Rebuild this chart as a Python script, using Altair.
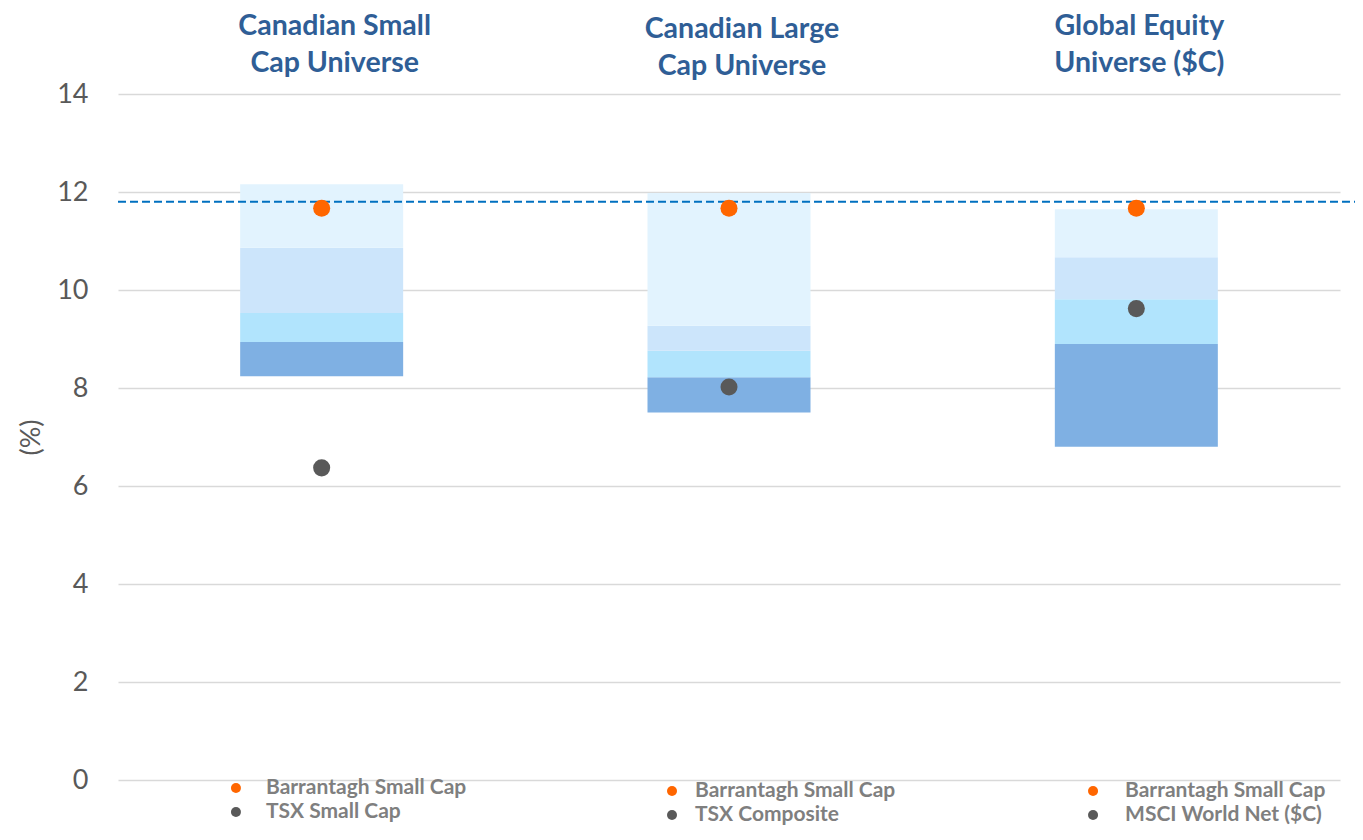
import altair as alt
import pandas as pd

# ---- data ----
groups = ["Canadian Small Cap Universe", "Canadian Large Cap Universe", "Global Equity Universe ($C)"]
group_titles = ["Canadian Small\nCap Universe", "Canadian Large\nCap Universe", "Global Equity\nUniverse ($C)"]
band_bottom = [8.24, 7.50, 6.80]
band_q3 = [8.94, 8.22, 8.90]
band_median = [9.53, 8.76, 9.81]
band_q1 = [10.86, 9.27, 10.67]
band_top = [12.16, 11.98, 11.65]
fund_name = "Barrantagh Small Cap"
fund_values = [11.67, 11.67, 11.67]
benchmark_names = ["TSX Small Cap", "TSX Composite", "MSCI World Net ($C)"]
benchmark_values = [6.37, 8.02, 9.62]
target_line = [11.80]
y_ticks = [0, 2, 4, 6, 8, 10, 12, 14]

# ---- styles ----
W, H = 1222, 686
FONT = "Lato"
band_names = ["4th quartile", "3rd quartile", "2nd quartile", "1st quartile"]
band_colors = ["#7FB0E3", "#B1E4FD", "#CCE5FB", "#E2F3FE"]
ORANGE = "#FF6600"
GREY = "#595959"
TITLE_COLOR = "#2F5E96"
LEGEND_TEXT = "#7F7F7F"
title_dx = [13, 13, 3]
title_y = [-68, -65, -68]
leg_dot_dx = [-85.7, -57, -43.3]
leg_text_dx = [-55.7, -34, -11.3]
leg_y = [694, 697, 697]
leg_gap = 24

# ---- tables ----
edges = list(zip(band_bottom, band_q3, band_median, band_q1, band_top))
band_rows = []
for g, e in zip(groups, edges):
    for k, name in enumerate(band_names):
        band_rows.append({"group": g, "band": name, "lo": e[k], "hi": e[k + 1]})
bands_df = pd.DataFrame(band_rows)

fund_df = pd.DataFrame({"group": groups, "value": fund_values})
bench_df = pd.DataFrame({"group": groups, "series": benchmark_names, "value": benchmark_values})
titles_df = pd.DataFrame({"group": groups, "title": group_titles})
target_df = pd.DataFrame({"value": target_line})

xscale = alt.Scale(domain=groups, paddingInner=0, paddingOuter=0)
yscale = alt.Scale(domain=[0, 14], nice=False)
X = alt.X("group:N", scale=xscale, axis=None, sort=groups)
YAX = alt.Axis(values=y_ticks, grid=True, gridColor="#D9D9D9", gridWidth=1.5,
               ticks=False, domain=False, labelPadding=30, labelFontSize=27,
               labelColor=GREY, labelFont=FONT, titleFont=FONT, titleFontSize=27,
               titleFontWeight="normal", titleColor=GREY, titleAngle=270,
               titleX=-87, titleY=H / 2, titleAlign="center", titleBaseline="middle")


def Y(field):
    return alt.Y(field, scale=yscale, title="(%)", axis=YAX)


bars = alt.Chart(bands_df).mark_bar(size=163).encode(
    x=X,
    y=Y("lo:Q"),
    y2="hi:Q",
    color=alt.Color("band:N", scale=alt.Scale(domain=band_names, range=band_colors), legend=None),
)

rule = alt.Chart(target_df).mark_rule(color="#0070C0", strokeWidth=2, strokeDash=[8, 4]).encode(
    y=Y("value:Q"),
    x=alt.value(0),
    x2=alt.value(W + 15),
)

fund_pts = alt.Chart(fund_df).mark_circle(size=290, opacity=1, color=ORANGE).encode(
    x=X, y=Y("value:Q"))
bench_pts = alt.Chart(bench_df).mark_circle(size=290, opacity=1, color=GREY).encode(
    x=X, y=Y("value:Q"))

layers = [bars, rule, fund_pts, bench_pts]

for i, g in enumerate(groups):
    tdf = titles_df[titles_df.group == g]
    layers.append(
        alt.Chart(tdf).mark_text(font=FONT, fontSize=28.5, fontWeight="bold", color=TITLE_COLOR,
                                 lineBreak="\n", lineHeight=37, align="center", baseline="middle",
                                 dx=title_dx[i]).encode(x=X, y=alt.value(title_y[i]), text="title:N")
    )
    ldf = pd.DataFrame({"group": [g, g], "label": [fund_name, benchmark_names[i]], "row": [0, 1]})
    for r in range(2):
        rdf = ldf[ldf.row == r]
        yv = leg_y[i] + r * leg_gap
        layers.append(
            alt.Chart(rdf).mark_circle(size=100, opacity=1, xOffset=leg_dot_dx[i],
                                       color=ORANGE if r == 0 else GREY).encode(
                x=X, y=alt.value(yv))
        )
        layers.append(
            alt.Chart(rdf).mark_text(font=FONT, fontSize=21, fontWeight="bold", color=LEGEND_TEXT,
                                     align="left", baseline="middle", dx=leg_text_dx[i]).encode(
                x=X, y=alt.value(yv), text="label:N")
        )

chart = alt.layer(*layers).properties(
    width=W, height=H,
    autosize=alt.AutoSizeParams(type="none"),
    padding={"left": 110, "top": 86, "right": 15, "bottom": 46},
).configure_view(stroke=None)

chart.save("out.html", embed_options={"renderer": "svg", "actions": False})
